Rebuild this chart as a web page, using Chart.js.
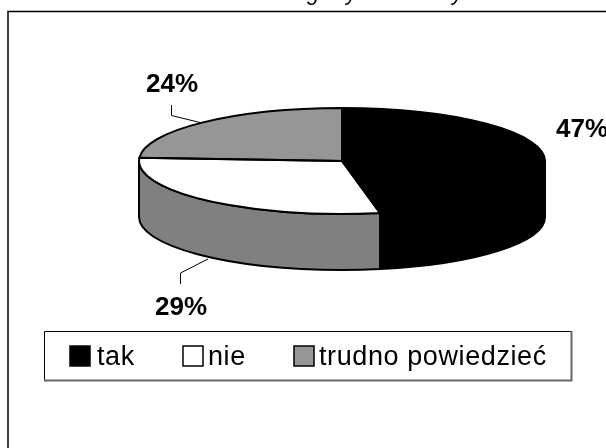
<!DOCTYPE html>
<html>
<head>
<meta charset="utf-8">
<script src="https://cdn.jsdelivr.net/npm/chart.js@4"></script>
<style>
html, body { margin: 0; padding: 0; background: #fff; overflow: hidden; }
#wrap { position: absolute; left: 0; top: 0; width: 606px; height: 448px; }
</style>
</head>
<body>
<div id="wrap"><canvas id="chartPie"></canvas></div>
<script>
const categories = ['tak', 'nie', 'trudno powiedzieć']
const shares = [47, 29, 24]
const shareLabels = ['47%', '29%', '24%']
const sliceColors = ['#000000', '#ffffff', '#969696']
const wallColors = ['#000000', '#808080', '#606060']
// only the descenders of the cut off title are left in the picture
const titleBits = ['g', 'y', 'y']

const squashY = 53 / 203
const faceY = 161
const depth = 56

function faceTransform(ctx, arc) {
    ctx.translate(0, faceY)
    ctx.scale(1, squashY)
    ctx.translate(0, -arc.y)
}

const pie3d = {
    id: 'pie3d',
    beforeDatasetsDraw(chart) {
        const ctx = chart.ctx
        const arcs = chart.getDatasetMeta(0).data
        // side wall, only the front half of the ellipse shows
        arcs.forEach((arc, i) => {
            const from = Math.max(arc.startAngle, 0)
            const to = Math.min(arc.endAngle, Math.PI)
            if (to <= from) return
            const r = arc.outerRadius
            const ry = r * squashY
            ctx.save()
            ctx.beginPath()
            ctx.ellipse(arc.x, faceY, r, ry, 0, from, to)
            ctx.lineTo(arc.x + r * Math.cos(to), faceY + depth + ry * Math.sin(to))
            ctx.ellipse(arc.x, faceY + depth, r, ry, 0, to, from, true)
            ctx.closePath()
            ctx.fillStyle = wallColors[i]
            ctx.fill()
            ctx.lineWidth = 2
            ctx.strokeStyle = '#000'
            ctx.stroke()
            ctx.restore()
        })
        ctx.save()
        faceTransform(ctx, arcs[0])
    },
    afterDatasetsDraw(chart) {
        const ctx = chart.ctx
        ctx.restore()
        const arcs = chart.getDatasetMeta(0).data
        arcs.forEach(arc => {
            const r = arc.outerRadius
            ctx.save()
            ctx.beginPath()
            ctx.moveTo(arc.x, faceY)
            ctx.ellipse(arc.x, faceY, r, r * squashY, 0, arc.startAngle, arc.endAngle)
            ctx.closePath()
            ctx.lineWidth = 2
            ctx.strokeStyle = '#000'
            ctx.stroke()
            ctx.restore()
        })
    },
    afterDraw(chart) {
        const ctx = chart.ctx
        ctx.save()
        // outer frame
        ctx.strokeStyle = '#000'
        ctx.lineWidth = 1.5
        ctx.strokeRect(8, 11.5, 640, 500)

        // title, cut off by the top edge
        ctx.fillStyle = '#000'
        ctx.font = 'italic 22px "Liberation Sans"'
        ctx.fillText(titleBits[0], 307, 0)
        ctx.fillText(titleBits[1], 346, 0)
        ctx.fillText(titleBits[2], 452, 0)

        // leader lines
        ctx.lineWidth = 1
        ctx.beginPath()
        ctx.moveTo(171.5, 105)
        ctx.lineTo(171.5, 115.5)
        ctx.lineTo(202, 123)
        ctx.moveTo(180.5, 284)
        ctx.lineTo(180.5, 273)
        ctx.lineTo(208, 259)
        ctx.stroke()

        // value labels
        ctx.textBaseline = 'alphabetic'
        ctx.font = 'bold 26px "Liberation Sans"'
        ctx.fillText(shareLabels[0], 556, 137)
        ctx.fillText(shareLabels[1], 155, 315)
        ctx.fillText(shareLabels[2], 146, 92)

        // legend
        ctx.lineWidth = 1
        ctx.strokeStyle = '#000'
        ctx.beginPath()
        ctx.moveTo(44.5, 380)
        ctx.lineTo(44.5, 331.5)
        ctx.lineTo(571.5, 331.5)
        ctx.stroke()
        ctx.strokeStyle = '#666'
        ctx.lineWidth = 2
        ctx.beginPath()
        ctx.moveTo(44, 380.5)
        ctx.lineTo(571.5, 380.5)
        ctx.lineTo(571.5, 331)
        ctx.stroke()

        ctx.font = '27px "Liberation Sans"'
        ctx.letterSpacing = '0.6px'
        const boxX = [70, 183, 294]
        const textX = [97, 208, 319]
        categories.forEach((c, i) => {
            ctx.fillStyle = sliceColors[i]
            ctx.fillRect(boxX[i], 346, 20, 20)
            ctx.strokeStyle = '#000'
            ctx.lineWidth = 1.5
            ctx.strokeRect(boxX[i], 346, 20, 20)
            ctx.fillStyle = '#000'
            ctx.fillText(c, textX[i], 365)
        })
        ctx.restore()
    }
}

new Chart(document.getElementById('chartPie'), {
    type: 'pie',
    data: {
        labels: categories,
        datasets: [
            {
                data: shares,
                backgroundColor: sliceColors,
                borderWidth: 0
            }
        ]
    },
    options: {
        responsive: true,
        maintainAspectRatio: false,
        animation: false,
        layout: {
            padding: { left: 139, right: 61, top: 21, bottom: 21 }
        },
        plugins: {
            legend: { display: false },
            tooltip: { enabled: false }
        }
    },
    plugins: [pie3d]
})
</script>
</body>
</html>
